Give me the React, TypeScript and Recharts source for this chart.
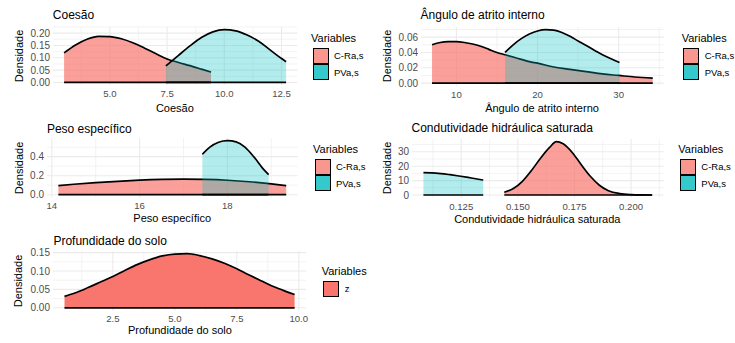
import React from 'react';
import { ComposedChart, Area, XAxis, YAxis, ReferenceLine, CartesianGrid } from 'recharts';

const FONT = '"Liberation Sans", Arial, Helvetica, sans-serif';
const RED = '#F8766D';
const CYAN = '#00BFC4';

// Coesão
const coesaoCRaX = [3.0, 3.5, 4.0, 4.5, 5.0, 5.5, 6.0, 6.5, 7.0, 7.5, 8.0, 8.5, 9.0, 9.42];
const coesaoCRaY = [0.12, 0.152, 0.175, 0.187, 0.186, 0.177, 0.161, 0.14, 0.117, 0.095, 0.081, 0.068, 0.054, 0.042];
const coesaoPVaX = [7.45, 8.0, 8.5, 9.0, 9.5, 10.0, 10.5, 11.0, 11.5, 12.0, 12.5, 12.7];
const coesaoPVaY = [0.067, 0.11, 0.148, 0.182, 0.205, 0.214, 0.209, 0.192, 0.167, 0.132, 0.097, 0.084];

// Ângulo de atrito interno
const anguloCRaX = [7, 8, 9, 10, 11, 12, 13, 14, 15, 16, 17, 18, 19, 20, 22, 24, 26, 28, 30, 32, 34.2];
const anguloCRaY = [0.05, 0.053, 0.054, 0.054, 0.053, 0.051, 0.048, 0.044, 0.04, 0.037, 0.034, 0.031, 0.028, 0.026, 0.021, 0.018, 0.015, 0.012, 0.01, 0.008, 0.0065];
const anguloPVaX = [16, 17, 18, 19, 20, 21, 22, 23, 24, 25, 26, 27, 28, 29, 30.1];
const anguloPVaY = [0.04, 0.05, 0.058, 0.064, 0.068, 0.0697, 0.069, 0.066, 0.061, 0.055, 0.049, 0.043, 0.037, 0.032, 0.027];

// Peso específico
const pesoCRaX = [14.15, 14.5, 15, 15.5, 16, 16.5, 17, 17.5, 18, 18.5, 19, 19.34];
const pesoCRaY = [0.096, 0.11, 0.127, 0.141, 0.153, 0.161, 0.164, 0.161, 0.152, 0.136, 0.113, 0.095];
const pesoPVaX = [17.43, 17.6, 17.8, 18.0, 18.2, 18.4, 18.6, 18.8, 18.94];
const pesoPVaY = [0.425, 0.5, 0.552, 0.568, 0.555, 0.5, 0.4, 0.28, 0.212];

// Condutividade hidráulica saturada
const condCRaX = [0.144, 0.148, 0.152, 0.156, 0.16, 0.164, 0.167, 0.17, 0.174, 0.178, 0.182, 0.186, 0.19, 0.195, 0.2, 0.205, 0.2093];
const condCRaY = [1.9, 4.5, 9.5, 17, 25.5, 33, 37, 35.5, 29.5, 21, 13, 6.8, 3.0, 1.0, 0.3, 0.08, 0.02];
const condPVaX = [0.1083, 0.112, 0.116, 0.12, 0.124, 0.128, 0.132, 0.1347];
const condPVaY = [15.5, 15.4, 14.9, 14.1, 13.2, 12.2, 11.1, 10.4];

// Profundidade do solo
const profZX = [0.55, 1.0, 1.5, 2.0, 2.5, 3.0, 3.5, 4.0, 4.5, 5.0, 5.5, 6.0, 6.5, 7.0, 7.5, 8.0, 8.5, 9.0, 9.5, 9.83];
const profZY = [0.031, 0.041, 0.055, 0.07, 0.085, 0.102, 0.118, 0.131, 0.141, 0.146, 0.147, 0.142, 0.133, 0.121, 0.106, 0.089, 0.073, 0.057, 0.044, 0.036];

// ticks
const coesaoXTicks = [5, 7.5, 10, 12.5];
const coesaoXLabels = ['5.0', '7.5', '10.0', '12.5'];
const coesaoXMinor = [3.75, 6.25, 8.75, 11.25];
const coesaoYTicks = [0, 0.05, 0.1, 0.15, 0.2];
const coesaoYLabels = ['0.00', '0.05', '0.10', '0.15', '0.20'];
const coesaoYMinor = [0.025, 0.075, 0.125, 0.175, 0.225];

const anguloXTicks = [10, 20, 30];
const anguloXLabels = ['10', '20', '30'];
const anguloXMinor = [15, 25, 35];
const anguloYTicks = [0, 0.02, 0.04, 0.06];
const anguloYLabels = ['0.00', '0.02', '0.04', '0.06'];
const anguloYMinor = [0.01, 0.03, 0.05, 0.07];

const pesoXTicks = [14, 16, 18];
const pesoXLabels = ['14', '16', '18'];
const pesoXMinor = [15, 17, 19];
const pesoYTicks = [0, 0.2, 0.4];
const pesoYLabels = ['0.0', '0.2', '0.4'];
const pesoYMinor = [0.1, 0.3, 0.5];

const condXTicks = [0.125, 0.15, 0.175, 0.2];
const condXLabels = ['0.125', '0.150', '0.175', '0.200'];
const condXMinor = [0.1125, 0.1375, 0.1625, 0.1875, 0.2125];
const condYTicks = [0, 10, 20, 30];
const condYLabels = ['0', '10', '20', '30'];
const condYMinor = [5, 15, 25, 35];

const profXTicks = [2.5, 5, 7.5, 10];
const profXLabels = ['2.5', '5.0', '7.5', '10.0'];
const profXMinor = [1.25, 3.75, 6.25, 8.75];
const profYTicks = [0, 0.05, 0.1, 0.15];
const profYLabels = ['0.00', '0.05', '0.10', '0.15'];
const profYMinor = [0.025, 0.075, 0.125];

const toRows = (xs: number[], ys: number[]) => xs.map((x, i) => ({ x, y: ys[i] }));

type Series = { name: string; xs: number[]; ys: number[]; fill: string; opacity: number; key: string };

interface PanelProps {
  title: string;
  series: Series[];
  xTicks: number[];
  xLabels: string[];
  xMinor: number[];
  yTicks: number[];
  yLabels: string[];
  yMinor: number[];
  frame: { left: number; top: number; width: number; height: number };
  yTitleX: number;
  xTitleY: number;
  titleY: number;
  legend: { left: number; cy: number };
}

// space around the plot area inside each chart
const YW = 40;
const XH = 20;
const MT = 10;
const MR = 20;

function Panel(p: PanelProps) {
  const allX = p.series.flatMap((s) => s.xs);
  const allY = p.series.flatMap((s) => s.ys);
  const xMin = Math.min(...allX);
  const xMax = Math.max(...allX);
  const xPad = (xMax - xMin) * 0.05;
  const yMax = Math.max(...allY);
  // ggplot-style 5% expansion
  const xDomain = [xMin - xPad, xMax + xPad];
  const yDomain = [-yMax * 0.05, yMax * 1.05];
  const { left, top, width, height } = p.frame;

  const xLab = (v: number) => p.xLabels[p.xTicks.indexOf(v)] ?? '';
  const yLab = (v: number) => p.yLabels[p.yTicks.indexOf(v)] ?? '';

  return (
    <>
      <div
        style={{ position: 'absolute', left, top: p.titleY, transform: 'translateY(-50%)', fontSize: 12, lineHeight: 1, whiteSpace: 'nowrap' }}
      >
        {p.title}
      </div>
      <div
        style={{
          position: 'absolute',
          left: p.yTitleX,
          top: top + height / 2,
          transform: 'translate(-50%, -50%) rotate(-90deg)',
          fontSize: 11,
          lineHeight: 1,
          whiteSpace: 'nowrap',
        }}
      >
        Densidade
      </div>
      <div
        style={{
          position: 'absolute',
          left: left + width / 2,
          top: p.xTitleY,
          transform: 'translate(-50%, -50%)',
          fontSize: 11,
          lineHeight: 1,
          whiteSpace: 'nowrap',
        }}
      >
        {p.title}
      </div>
      <div style={{ position: 'absolute', left: left - YW, top: top - MT }}>
        <ComposedChart width={YW + width + MR} height={height + XH + MT} margin={{ top: MT, right: MR, bottom: 0, left: 0 }}>
          <CartesianGrid
            horizontalValues={p.yMinor}
            verticalValues={p.xMinor}
            stroke="#EBEBEB"
            strokeWidth={0.6}
            fill="none"
          />
          <CartesianGrid
            horizontalValues={p.yTicks}
            verticalValues={p.xTicks}
            stroke="#EBEBEB"
            strokeWidth={1.1}
            fill="none"
          />
          <XAxis
            type="number"
            dataKey="x"
            domain={xDomain}
            allowDataOverflow
            ticks={p.xTicks}
            interval={0}
            tickFormatter={xLab}
            axisLine={false}
            tickLine={false}
            tickSize={0}
            tickMargin={5}
            height={XH}
            tick={{ fill: '#4D4D4D', fontSize: 9.6, fontFamily: FONT }}
          />
          <YAxis
            type="number"
            domain={yDomain}
            allowDataOverflow
            ticks={p.yTicks}
            interval={0}
            tickFormatter={yLab}
            axisLine={false}
            tickLine={false}
            tickSize={0}
            tickMargin={3}
            width={YW}
            tick={{ fill: '#4D4D4D', fontSize: 10, fontFamily: FONT }}
          />
          {p.series.map((s) => (
            <Area
              key={s.name}
              data={toRows(s.xs, s.ys)}
              dataKey="y"
              type="monotone"
              baseValue={0}
              fill={s.fill}
              fillOpacity={s.opacity}
              stroke="#000"
              strokeWidth={1.7}
              dot={false}
              activeDot={false}
              isAnimationActive={false}
            />
          ))}
          {p.series.map((s) => (
            <ReferenceLine
              key={'base' + s.name}
              segment={[
                { x: s.xs[0], y: 0 },
                { x: s.xs[s.xs.length - 1], y: 0 },
              ]}
              stroke="#000"
              strokeWidth={1.7}
            />
          ))}
        </ComposedChart>
      </div>
      <div
        style={{ position: 'absolute', left: p.legend.left, top: p.legend.cy, transform: 'translateY(-50%)', fontSize: 11, lineHeight: 1 }}
      >
        Variables
      </div>
      {p.series.map((s, i) => (
        <React.Fragment key={'lg' + s.name}>
          <div
            style={{
              position: 'absolute',
              left: p.legend.left + 1.5,
              top: p.legend.cy + 9.5 + i * 16.5,
              width: 14,
              height: 14,
              background: s.key,
              border: '1.5px solid #000',
            }}
          />
          <div
            style={{
              position: 'absolute',
              left: p.legend.left + 23,
              top: p.legend.cy + 18 + i * 16.5,
              transform: 'translateY(-50%)',
              fontSize: 9.5,
              lineHeight: 1,
            }}
          >
            {s.name}
          </div>
        </React.Fragment>
      ))}
    </>
  );
}

export default function App() {
  const cra = (xs: number[], ys: number[]): Series => ({ name: 'C-Ra,s', xs, ys, fill: RED, opacity: 0.7, key: '#F9978F' });
  const pva = (xs: number[], ys: number[]): Series => ({ name: 'PVa,s', xs, ys, fill: CYAN, opacity: 0.3, key: '#36C9CB' });
  return (
    <div
      style={{ position: 'absolute', left: 0, top: 0, width: 735, height: 343, background: '#fff', fontFamily: FONT, color: '#000', overflow: 'hidden' }}
    >
      <Panel
        title="Coesão"
        series={[cra(coesaoCRaX, coesaoCRaY), pva(coesaoPVaX, coesaoPVaY)]}
        xTicks={coesaoXTicks}
        xLabels={coesaoXLabels}
        xMinor={coesaoXMinor}
        yTicks={coesaoYTicks}
        yLabels={coesaoYLabels}
        yMinor={coesaoYMinor}
        frame={{ left: 52.8, top: 26.6, width: 244.2, height: 58.1 }}
        yTitleX={19}
        xTitleY={108}
        titleY={15}
        legend={{ left: 311, cy: 38 }}
      />
      <Panel
        title="Ângulo de atrito interno"
        series={[cra(anguloCRaX, anguloCRaY), pva(anguloPVaX, anguloPVaY)]}
        xTicks={anguloXTicks}
        xLabels={anguloXLabels}
        xMinor={anguloXMinor}
        yTicks={anguloYTicks}
        yLabels={anguloYLabels}
        yMinor={anguloYMinor}
        frame={{ left: 420.6, top: 26.6, width: 242.8, height: 58.8 }}
        yTitleX={386.7}
        xTitleY={107.7}
        titleY={15.3}
        legend={{ left: 681.7, cy: 38 }}
      />
      <Panel
        title="Peso específico"
        series={[cra(pesoCRaX, pesoCRaY), pva(pesoPVaX, pesoPVaY)]}
        xTicks={pesoXTicks}
        xLabels={pesoXLabels}
        xMinor={pesoXMinor}
        yTicks={pesoYTicks}
        yLabels={pesoYLabels}
        yMinor={pesoYMinor}
        frame={{ left: 46.9, top: 138.3, width: 250.6, height: 59.4 }}
        yTitleX={19.3}
        xTitleY={217.7}
        titleY={129}
        legend={{ left: 313, cy: 149 }}
      />
      <Panel
        title="Condutividade hidráulica saturada"
        series={[cra(condCRaX, condCRaY), pva(condPVaX, condPVaY)]}
        xTicks={condXTicks}
        xLabels={condXLabels}
        xMinor={condXMinor}
        yTicks={condYTicks}
        yLabels={condYLabels}
        yMinor={condYMinor}
        frame={{ left: 411.5, top: 139, width: 251.6, height: 58.7 }}
        yTitleX={386.7}
        xTitleY={219}
        titleY={128}
        legend={{ left: 678.3, cy: 149 }}
      />
      <Panel
        title="Profundidade do solo"
        series={[{ name: 'z', xs: profZX, ys: profZY, fill: RED, opacity: 1, key: RED }]}
        xTicks={profXTicks}
        xLabels={profXLabels}
        xMinor={profXMinor}
        yTicks={profYTicks}
        yLabels={profYLabels}
        yMinor={profYMinor}
        frame={{ left: 53.4, top: 251.2, width: 253.1, height: 59.5 }}
        yTitleX={18.3}
        xTitleY={329.5}
        titleY={240.7}
        legend={{ left: 321.7, cy: 271 }}
      />
    </div>
  );
}
